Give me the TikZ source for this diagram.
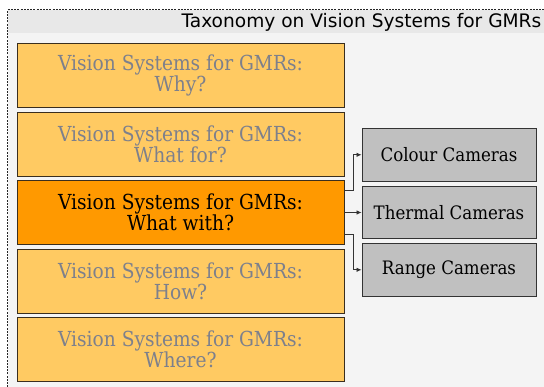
\documentclass[tikz,border=0pt]{standalone}
\usepackage{fontspec}
\setmainfont{DejaVu Serif Condensed}
\newfontfamily\titlefont{DejaVu Sans}
\usetikzlibrary{arrows.meta}
\definecolor{lightor}{HTML}{FFCA62}
\definecolor{darkor}{HTML}{FF9900}
\definecolor{camgray}{HTML}{C0C0C0}
\definecolor{fadetxt}{HTML}{7D808C}
\definecolor{bordercol}{HTML}{3A2E1E}
\definecolor{framebg}{HTML}{F4F4F4}
\definecolor{titlebg}{HTML}{E8E8E8}
\tikzset{
  topic/.style={draw=bordercol, line width=0.9pt, fill=lightor, minimum width=327pt, minimum height=64pt, inner sep=0pt, align=center, text=fadetxt, font=\fontsize{20.7}{19.5}\selectfont},
  active/.style={topic, fill=darkor, text=black},
  cam/.style={draw=black!80, line width=0.9pt, fill=camgray, minimum width=174pt, minimum height=52.5pt, inner sep=0pt, font=\fontsize{18.5}{20}\selectfont},
  conn/.style={draw=black!80, line width=0.8pt, -{Latex[length=5pt,width=4.5pt]}}
}
\begin{document}
\begin{tikzpicture}[x=1pt,y=-1pt]
\useasboundingbox (0,0) rectangle (544,387);
\begin{scope}
\clip (0,0) rectangle (544,387);
\fill[framebg] (7.5,10) rectangle (560,400);
\fill[titlebg] (7.5,10) rectangle (560,33.5);
\draw[black!85, line width=1pt, dash pattern=on 2pt off 1.2pt] (7.5,400) -- (7.5,10) -- (560,10);
\end{scope}
\node[anchor=east, inner sep=0pt, font=\titlefont\fontsize{18.6}{18.6}\selectfont] (title) at (541.5,22.5) {Taxonomy on Vision Systems for GMRs};

\node[topic] (b1) at (180.5,75.5) {Vision Systems for GMRs:\\Why?};
\node[topic] (b2) at (180.5,144) {Vision Systems for GMRs:\\What for?};
\node[active] (b3) at (180.5,212.5) {Vision Systems for GMRs:\\What with?};
\node[topic] (b4) at (180.5,281) {Vision Systems for GMRs:\\How?};
\node[topic] (b5) at (180.5,349.5) {Vision Systems for GMRs:\\Where?};

\node[cam] (ga) at (449,154.8) {Colour Cameras};
\node[cam] (gb) at (449,212.5) {Thermal Cameras};
\node[cam] (gc) at (449,269.8) {Range Cameras};

\draw[conn] ([yshift=22pt]b3.east) -- ++(9pt,0) |- (ga.west);
\draw[conn] (b3.east) -- (gb.west);
\draw[conn] ([yshift=-22pt]b3.east) -- ++(9pt,0) |- (gc.west);
\end{tikzpicture}
\end{document}
